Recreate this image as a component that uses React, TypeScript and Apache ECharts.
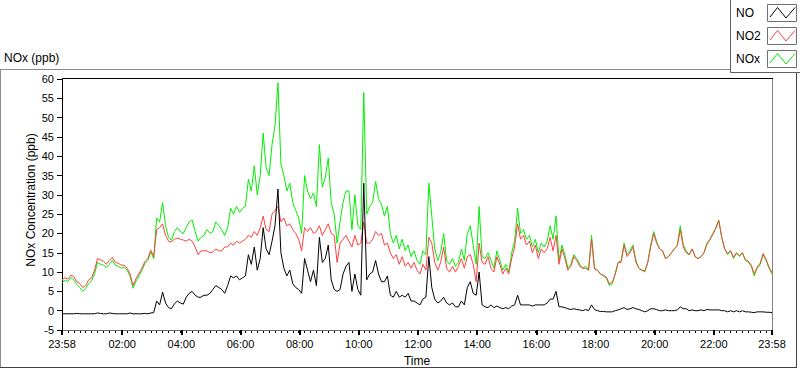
import React, { useEffect, useRef } from "react";
import * as echarts from "echarts";

// sample spacing (minutes from 23:58)
const STEP_MIN = 6;
const START_CLOCK = 23 * 60 + 58;

const NO = [
  -0.8, -0.8, -0.8, -0.8, -0.8, -0.7, -0.8, -0.8, -0.8, -0.8,
  -0.8, -0.8, -0.6, -0.7, -0.8, -0.8, -0.6, -0.7, -0.8, -0.8,
  -0.8, -0.8, -0.8, -0.6, -0.8, -0.8, -0.8, -0.8, -0.7, -0.8,
  -0.6, -0.5, 2.5, 1.5, 4.8, 2.0, 0.8, 0.5, 1.8, 2.5, 2.0, 1.7, 3.5, 4.5, 5.0, 4.0, 3.5, 3.5, 4.0,
  4.0, 4.5, 5.5, 6.5, 6.0, 5.5, 4.5, 6.5, 9.0, 8.5,
  9.0, 8.0, 8.5, 9.0, 14.5, 12.0, 16.5, 10.5, 13.5, 21.5,
  16, 14.5, 18, 22, 31.5, 15, 11, 9, 10.5, 7,
  6, 5.5, 4.5, 13.5, 10.5, 7.5, 10.5, 6.5, 19, 12.5,
  13.5, 17, 8, 5.5, 5.0, 5.5, 9.5, 11.5,
  12.5, 5.0, 9.5, 5.5, 4.0, 33, 8.0, 9.5, 10.0, 13.0,
  9.5, 7.5, 7.5, 9.0, 4.0, 3.5, 5.0, 3.5, 4.0, 3.5,
  4.5, 2.5, 2.5, 2.0, 1.5, 3.0, 3.5, 14, 6, 3.0,
  2.0, 2.5, 3.5, 2.0, 1.5, 2.0, 1.0, 1.0, 2.5, 1.5,
  6.0, 7.5, 4.5, 4.0, 10, 1.5, 1.0, 0.8,
  1.5, 0.8, 1.2, 0.8, 0.5, 0.8, 0.5, 1.2, 1.5, 4.0,
  1.5, 1.5, 1.5, 1.5, 1.2, 1.5, 1.5, 1.5, 1.5, 2.0,
  3.0, 3.0, 5.0, 1.0, 1.0, 0.8, 0.5, 0.3, 0.5, 0.3,
  0.2, 0.0, 0.3, 0.0, 1.5, 0.3, 0.0, -0.2, -0.2, -0.3,
  -0.3, -0.3, 0.0, 0.2, 0.5, 0.8, 0.3, 0.5,
  0.8, 0.5, 0.3, 0.0, -0.3, 0.0, 0.5, 0.5, 0.3, 0.0,
  0.0, 0.2, 0.0, 0.0, 0.0, 0.2, 1.0, 0.5, 0.5, 0.0,
  0.2, 0.0, 0.0, 0.2, 0.0, 0.3, 0.2, 0.2, 0.2, 0.2,
  0.0, 0.0, -0.3, 0.0, -0.3, 0.0, -0.3, 0.0, -0.3, -0.3,
  -0.4, -0.5, -0.3, -0.3, -0.3, -0.4, -0.4, -0.5,
];

const NO2 = [
  8.0, 8.5, 8.2, 9.2, 8.8, 7.5, 7.0, 6.0, 6.5, 8.0,
  8.5, 10.5, 13.5, 13.2, 12.8, 12.0, 13.0, 13.8, 12.5, 12.3,
  11.8, 11.8, 11.0, 9.5, 6.5, 8.3, 9.6, 11.0, 12.7, 13.5,
  15.7, 14.0, 21.0, 21.5, 22.5, 19.5, 18.0, 17.8, 18.5, 18.8,
  18.5, 18.3, 18.0, 18.5, 18.0, 16.5, 14.5, 15.5, 15.5,
  15.5, 15.0, 15.2, 16, 15.5, 15.5, 16.5, 16.5, 17.5, 17,
  18, 17.5, 18, 18.5, 19.5, 19, 20.5, 19.5, 21.5, 24.5,
  21, 20.5, 25, 26, 27, 23, 24, 22, 22.5, 21,
  20, 18.5, 15.5, 21.5, 20.5, 21.5, 20, 20.5, 22, 19.5,
  21, 22.5, 20, 19.5, 12.5, 17.5, 18.5, 19.5,
  18, 16.5, 19.5, 17, 17.5, 23, 17.5, 17.5, 18.5, 20.5,
  19.5, 20, 17, 17.5, 15, 13.5, 14.5, 12, 14, 11.5,
  12.5, 11, 12.5, 10.5, 9.5, 12, 10.5, 19, 17.5, 12.5,
  10.5, 12.5, 16.5, 11, 10, 11.5, 10, 11.5, 13.5, 11,
  14, 14.5, 12, 7.5, 17.5, 12.5, 12, 14,
  11, 10, 14, 12, 9.5, 11, 9.5, 13.5, 16.5, 22.5,
  18.5, 19.5, 17, 18, 15, 17, 13.5, 16, 15, 16,
  19, 15.5, 19.5, 12, 16, 13.5, 10.5, 11.5, 14, 13,
  11.5, 11, 11, 10.5, 18.5, 10.8, 10.5, 9.5, 9.2, 8.7,
  7, 7.3, 9.5, 12.5, 12.5, 17, 14, 15,
  16.5, 12.5, 11, 10.5, 10.3, 12.5, 16.5, 20, 17.5, 16,
  15.5, 13.5, 14, 15, 16, 16.8, 21, 16.5, 15, 14.5,
  16, 14, 13.5, 14, 15, 17.2, 18.3, 19.8, 21.3, 23.3,
  19, 16, 14.8, 15.5, 13.8, 15, 14.3, 15, 13.2, 12.8,
  11.8, 9.5, 11.3, 12.3, 14.8, 13.3, 11.3, 9.8,
];

const NOX = [
  7.3, 7.8, 7.6, 8.6, 8.0, 6.8, 6.0, 5.0, 5.8, 7.0,
  7.8, 9.5, 12.5, 12.0, 11.8, 11.2, 12.0, 13.0, 11.8, 11.5,
  11.0, 11.2, 10.5, 9.0, 5.8, 7.6, 9.0, 10.4, 12.2, 13.0,
  15.2, 13.5, 24.0, 23.0, 28.0, 22.0, 19.0, 18.2, 20.5, 21.5,
  20.5, 20.0, 21.5, 23.0, 23.5, 20.5, 18.0, 19.0, 19.5,
  21, 20, 20.5, 23, 22, 21, 19.5, 21.5, 26.5, 25,
  27, 25.5, 26.5, 27, 34, 31, 37.5, 30, 35, 46,
  37, 35, 43, 48, 59, 38, 35, 31, 33, 28,
  26, 24, 20, 35, 31, 29, 30.5, 27, 43, 32,
  34.5, 39.5, 28, 25, 17.5, 23, 28, 31,
  31, 21, 30, 22, 21, 56.5, 25, 27, 28, 33.5,
  29, 27.5, 24.5, 27, 20, 17.5, 19.5, 16, 18.5, 15.5,
  17, 14, 15.5, 13, 12, 15.5, 14.5, 33, 24.5, 16,
  13, 15, 20, 13, 12, 13.5, 11.5, 12.5, 16, 13,
  20, 22, 17, 12, 27, 14, 13.5, 15,
  13, 11, 15.5, 13, 10.5, 12, 10, 15, 18, 26.5,
  20, 21, 18.5, 19.5, 16.5, 18.5, 15, 17.5, 16.5, 18,
  22, 18.5, 24.5, 13, 17, 14.5, 11, 12, 14.5, 13.5,
  12, 11, 11.5, 10.5, 19.5, 11, 10.5, 9.5, 9, 8.5,
  6.5, 7, 9.5, 12.5, 13, 17.5, 14.5, 15.5,
  17, 13, 11, 10.5, 10, 12.5, 17, 20.5, 18, 16,
  15.5, 13.5, 14, 15, 16, 17, 22, 17, 15.5, 14.5,
  16, 14, 13.5, 14, 15, 17.5, 18.5, 20, 21.5, 23.5,
  19, 16, 14.5, 15.5, 13.5, 15, 14, 15, 13, 12.5,
  11.5, 9, 11, 12, 14.5, 13, 11, 9.5,
];

// labelled ticks (minutes after 23:58): 23:58, 02:00 ... 22:00, 23:58
const X_LABEL_MINUTES = [0, 122, 242, 362, 482, 602, 722, 842, 962, 1082, 1202, 1322, 1440];
const X_MINOR_STEP = 12;

const FONT = "'Liberation Sans', Arial, sans-serif";

function clock(m: number): string {
  const t = (START_CLOCK + Math.round(m)) % 1440;
  const h = Math.floor(t / 60);
  const mm = t % 60;
  return (h < 10 ? "0" : "") + h + ":" + (mm < 10 ? "0" : "") + mm;
}

const LEGEND = [
  { name: "NO", color: "#000000" },
  { name: "NO2", color: "#ff4040" },
  { name: "NOx", color: "#00ee00" },
];

export default function App() {
  const ref = useRef<HTMLDivElement>(null);
  useEffect(() => {
    const chart = echarts.init(ref.current!, null, { renderer: "svg" });
    const pairs = (arr: number[]) => arr.map((v, i) => [i * STEP_MIN, v]);

    const legendGraphics: any[] = [
      {
        type: "rect",
        shape: { x: 730.5, y: -1, width: 75, height: 73.5 },
        style: { fill: "#ffffff", stroke: "#606060", lineWidth: 1 },
        z: 10,
      },
    ];
    LEGEND.forEach((l, k) => {
      const oy = k * 23;
      legendGraphics.push({
        type: "text",
        x: 736,
        y: 13 + oy,
        style: { text: l.name, fill: "#000", font: `12px ${FONT}`, align: "left", verticalAlign: "middle" },
        z: 11,
      });
      legendGraphics.push({
        type: "rect",
        shape: { x: 767.5, y: 4.5 + oy, width: 29, height: 17 },
        style: { fill: "#ffffff", stroke: "#707070", lineWidth: 1 },
        z: 11,
      });
      legendGraphics.push({
        type: "polyline",
        shape: { points: [[770, 17 + oy], [777.5, 7.5 + oy], [786, 18 + oy], [795, 7.5 + oy]] },
        style: { stroke: l.color, lineWidth: 1, fill: "none" },
        z: 12,
      });
    });

    chart.setOption({
      animation: false,
      backgroundColor: "#ffffff",
      grid: { left: 62, top: 79, width: 710, height: 251, containLabel: false },
      xAxis: [
        {
          type: "value",
          min: 0,
          max: 1440,
          position: "bottom",
          axisLine: { show: true, onZero: false, lineStyle: { color: "#707070", width: 1 } },
          axisTick: {
            show: true,
            customValues: X_LABEL_MINUTES,
            length: 5,
            lineStyle: { color: "#000", width: 2 },
          },
          axisLabel: {
            customValues: X_LABEL_MINUTES,
            formatter: (v: number) => clock(v),
            color: "#000",
            fontSize: 11,
            fontFamily: FONT,
            margin: 8,
          },
          splitLine: { show: false },
          z: 3,
        },
        {
          type: "value",
          min: 0,
          max: 1440,
          interval: X_MINOR_STEP,
          position: "bottom",
          axisLine: { show: false, onZero: false },
          axisTick: {
            show: true,
            length: 3,
            lineStyle: { color: "#000", width: 1 },
          },
          axisLabel: { show: false },
          splitLine: { show: false },
          z: 2,
        },
      ],
      yAxis: {
        type: "value",
        min: -5,
        max: 60,
        interval: 5,
        axisLine: { show: true, onZero: false, lineStyle: { color: "#000", width: 1 } },
        axisTick: { show: true, length: 5, lineStyle: { color: "#000" } },
        axisLabel: { color: "#000", fontSize: 11, fontFamily: FONT, margin: 8 },
        splitLine: { show: false },
      },
      series: [
        {
          name: "NOx",
          type: "line",
          data: pairs(NOX),
          showSymbol: false,
          symbol: "none",
          lineStyle: { color: "#00ee00", width: 1 },
          z: 2,
        },
        {
          name: "NO2",
          type: "line",
          data: pairs(NO2),
          showSymbol: false,
          symbol: "none",
          lineStyle: { color: "#ff4040", width: 1 },
          z: 3,
        },
        {
          name: "NO",
          type: "line",
          data: pairs(NO),
          showSymbol: false,
          symbol: "none",
          lineStyle: { color: "#000000", width: 1 },
          z: 4,
        },
      ],
      graphic: [
        // outer panel frame
        { type: "line", shape: { x1: 0, y1: 69.5, x2: 731, y2: 69.5 }, style: { stroke: "#8c8c8c", lineWidth: 1 } },
        { type: "line", shape: { x1: 0.5, y1: 69, x2: 0.5, y2: 368 }, style: { stroke: "#8c8c8c", lineWidth: 1 } },
        { type: "line", shape: { x1: 0, y1: 367.5, x2: 797, y2: 367.5 }, style: { stroke: "#404040", lineWidth: 1 } },
        { type: "line", shape: { x1: 796.5, y1: 72, x2: 796.5, y2: 368 }, style: { stroke: "#404040", lineWidth: 1 } },
        // plot frame top and right
        { type: "line", shape: { x1: 62, y1: 78.5, x2: 773, y2: 78.5 }, style: { stroke: "#000", lineWidth: 1 } },
        { type: "line", shape: { x1: 772.5, y1: 79, x2: 772.5, y2: 330 }, style: { stroke: "#808080", lineWidth: 1 } },
        // titles
        {
          type: "text",
          x: 4,
          y: 58,
          style: { text: "NOx (ppb)", fill: "#000", font: `12px ${FONT}`, align: "left", verticalAlign: "middle" },
        },
        {
          type: "text",
          x: 31,
          y: 200,
          rotation: Math.PI / 2,
          style: {
            text: "NOx Concentration (ppb)",
            fill: "#000",
            font: `12px ${FONT}`,
            align: "center",
            verticalAlign: "middle",
          },
        },
        {
          type: "text",
          x: 417,
          y: 361,
          style: { text: "Time", fill: "#000", font: `12px ${FONT}`, align: "center", verticalAlign: "middle" },
        },
        ...legendGraphics,
      ],
    });
    return () => chart.dispose();
  }, []);
  return (
    <div
      ref={ref}
      style={{ position: "absolute", left: 0, top: 0, width: 800, height: 369, background: "#fff" }}
    />
  );
}
